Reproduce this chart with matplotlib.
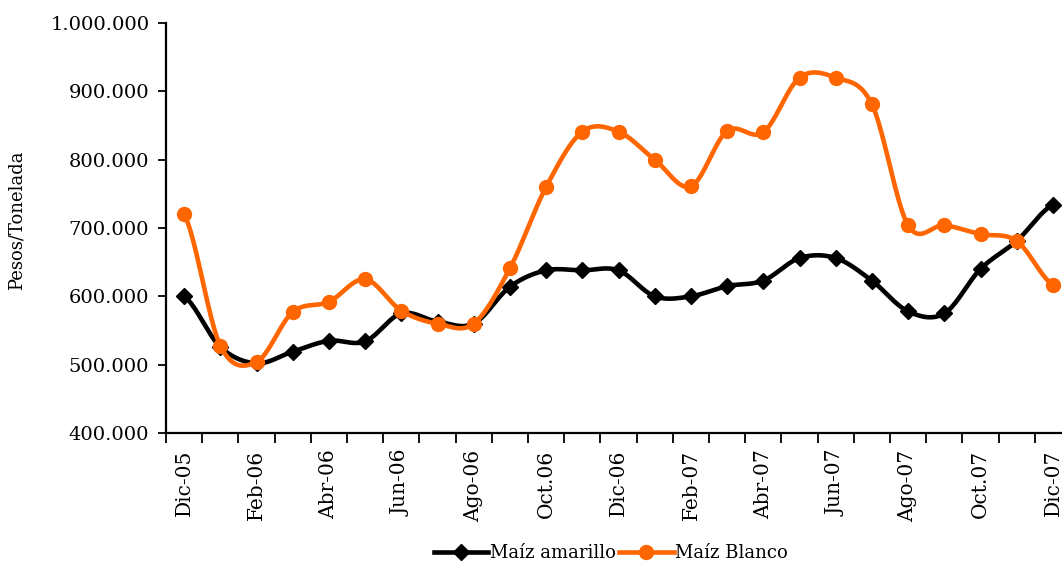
import numpy as np
import matplotlib
matplotlib.use("Agg")
import matplotlib.pyplot as plt
from matplotlib.ticker import FuncFormatter, FixedLocator
from matplotlib.lines import Line2D

months = ["Dic-05", "Ene-06", "Feb-06", "Mar-06", "Abr-06", "May-06", "Jun-06",
          "Jul-06", "Ago-06", "Sep-06", "Oct.06", "Nov-06", "Dic-06", "Ene-07",
          "Feb-07", "Mar-07", "Abr-07", "May-07", "Jun-07", "Jul-07", "Ago-07",
          "Sep-07", "Oct.07", "Nov-07", "Dic-07"]

amarillo = [600, 526, 502, 519, 535, 534, 575, 563, 560, 614, 638, 638, 638,
            600, 600, 615, 623, 656, 656, 623, 578, 575, 640, 681, 734]
blanco = [720, 528, 504, 577, 592, 625, 579, 560, 560, 641, 760, 841, 841,
          800, 761, 842, 840, 920, 920, 881, 704, 704, 691, 681, 617]

amarillo = np.array(amarillo) * 1000
blanco = np.array(blanco) * 1000


def smooth(y, n=20):
    # Excel-style smoothed line (Catmull-Rom through the points)
    y = np.asarray(y, float)
    x = np.arange(len(y), dtype=float)
    px = np.concatenate([[2 * x[0] - x[1]], x, [2 * x[-1] - x[-2]]])
    py = np.concatenate([[y[0]], y, [y[-1]]])
    xs, ys = [], []
    t = np.linspace(0, 1, n, endpoint=False)
    for i in range(1, len(px) - 2):
        p0, p1, p2, p3 = py[i - 1], py[i], py[i + 1], py[i + 2]
        q0, q1, q2, q3 = px[i - 1], px[i], px[i + 1], px[i + 2]
        c1y, c2y = p1 + (p2 - p0) / 6, p2 - (p3 - p1) / 6
        c1x, c2x = q1 + (q2 - q0) / 6, q2 - (q3 - q1) / 6
        b = [(1 - t) ** 3, 3 * (1 - t) ** 2 * t, 3 * (1 - t) * t ** 2, t ** 3]
        xs.append(b[0] * q1 + b[1] * c1x + b[2] * c2x + b[3] * q2)
        ys.append(b[0] * p1 + b[1] * c1y + b[2] * c2y + b[3] * p2)
    xs.append([x[-1]])
    ys.append([y[-1]])
    return np.concatenate(xs), np.concatenate(ys)


plt.rcParams['font.family'] = 'DejaVu Serif'

fig = plt.figure(figsize=(10.62, 5.65), dpi=100)
ax = fig.add_axes([166 / 1062, 1 - 433 / 565, 905 / 1062, 410 / 565])

orange = "#FF6600"
x = np.arange(len(months))

sx, sy = smooth(amarillo)
ax.plot(sx, sy, color="black", lw=3.3, zorder=3, solid_capstyle="round")
ax.plot(x, amarillo, ls="none", marker="D", ms=8.5, color="black", zorder=3)

sx, sy = smooth(blanco)
ax.plot(sx, sy, color=orange, lw=3.3, zorder=4, solid_capstyle="round")
ax.plot(x, blanco, ls="none", marker="o", ms=10, color=orange, zorder=4)

ax.set_xlim(-0.5, len(months) - 0.5)
ax.set_ylim(400000, 1000000)
ax.set_yticks(np.arange(400000, 1000001, 100000))
ax.yaxis.set_major_formatter(FuncFormatter(lambda v, p: f"{int(v):,}".replace(",", ".")))

ax.set_xticks(x[::2])
ax.set_xticklabels(months[::2], rotation=90, fontsize=14.5)
ax.xaxis.set_minor_locator(FixedLocator(np.arange(-0.5, len(months), 1)))
ax.tick_params(axis="x", which="major", length=0, pad=12)
ax.tick_params(axis="x", which="minor", length=7, width=1.3, direction="out")
ax.tick_params(axis="y", length=6, width=1.3, labelsize=14, pad=6)

for s in ["top", "right"]:
    ax.spines[s].set_visible(False)
for s in ["left", "bottom"]:
    ax.spines[s].set_linewidth(1.6)

ax.set_ylabel("Pesos/Tonelada", fontsize=13, labelpad=12)
ax.yaxis.set_label_coords(-0.155, 0.52)

handles = [
    Line2D([], [], color="black", lw=3.3, marker="D", ms=8.5),
    Line2D([], [], color=orange, lw=3.3, marker="o", ms=10),
]
fig.legend(handles, ["Maíz amarillo", "Maíz Blanco"], loc="center",
           bbox_to_anchor=(611 / 1062, 1 - 553 / 565), ncol=2, frameon=False,
           fontsize=13, handlelength=3.0, handletextpad=0.1, columnspacing=0.2)

fig.savefig("out.png", dpi=100)
